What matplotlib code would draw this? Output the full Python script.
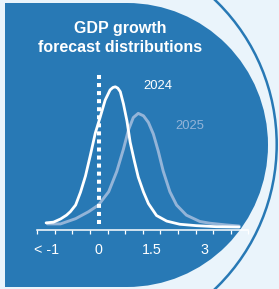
import matplotlib.pyplot as plt
from matplotlib.patches import Ellipse, Rectangle, Circle

# 数据 (x: GDP growth, y: density in arbitrary units)
x_2024 = [-1.50, -1.29, -1.09, -0.92, -0.81, -0.66, -0.52, -0.38, -0.24, -0.10, 0.04,
          0.18, 0.32, 0.40, 0.47, 0.54, 0.61, 0.70, 0.80, 0.89, 1.01, 1.12, 1.27,
          1.41, 1.64, 1.93, 2.30, 2.77, 3.34, 3.99]
y_2024 = [1.9, 2.1, 3.0, 4.1, 5.1, 7.0, 10.7, 15.3, 21.3, 27.6, 32.2,
          37.0, 39.9, 40.6, 40.8, 40.4, 39.4, 35.9, 31.0, 25.0, 19.6, 15.0, 10.7,
          7.4, 4.0, 2.4, 1.5, 1.1, 0.8, 0.7]
x_2025 = [-1.46, -1.09, -0.66, -0.29, -0.01, 0.28, 0.51, 0.70, 0.84, 0.98, 1.12,
          1.27, 1.41, 1.55, 1.69, 1.83, 2.02, 2.21, 2.49, 2.87, 3.15, 3.62, 3.99]
y_2025 = [1.6, 1.6, 3.1, 5.1, 7.0, 10.8, 16.6, 23.0, 28.4, 32.0, 33.2,
          32.5, 30.6, 27.3, 22.4, 16.7, 10.8, 7.0, 4.1, 2.3, 1.8, 1.3, 1.0]

bin_edges = [-1.75 + 0.5 * i for i in range(13)]
label_pos = [-1.5, 0, 1.5, 3]
label_txt = ['< -1', '0', '1.5', '3']
zero_x = 0
zero_y = (1.6, 45.1)

blue = '#2879b5'
light = '#eaf4fb'
faded = '#93b4d8'

plt.rcParams['font.family'] = ['Liberation Sans', 'DejaVu Sans']

fig = plt.figure(figsize=(2.79, 2.89), dpi=100)
fig.patch.set_facecolor(light)

# 背景形状 (像素坐标)
bg = fig.add_axes([0, 0, 1, 1])
bg.set_xlim(0, 279)
bg.set_ylim(289, 0)
bg.axis('off')
bg.add_patch(Rectangle((5, 3), 122, 284, color=blue, lw=0))
bg.add_patch(Ellipse((127, 145), 282, 284, color=blue, lw=0))
bg.add_patch(Rectangle((0, 0), 5, 289, color=light, lw=0))
bg.add_patch(Circle((76.7, 144.5), 200, fill=False, ec=blue, lw=1.8))

# 标题
fig.text(0.43, 1 - 33.3 / 289, 'GDP growth', color='white', fontsize=11.5,
         fontweight='bold', ha='center', va='baseline')
fig.text(0.43, 1 - 52.3 / 289, 'forecast distributions', color='white', fontsize=11.5,
         fontweight='bold', ha='center', va='baseline')

ax = fig.add_axes([37.3 / 279, 1 - 229.5 / 289, 211 / 279, 159.5 / 289])
ax.patch.set_alpha(0)
ax.set_xlim(-1.75, 4.25)
ax.set_ylim(0, 45.6)

ax.plot(x_2025, y_2025, color=faded, lw=2.1, solid_joinstyle='round', solid_capstyle='round')
ax.vlines(zero_x, zero_y[0], zero_y[1], color='white', lw=2.9, linestyles=(0, (1, 1)))
ax.plot(x_2024, y_2024, color='white', lw=2.0, solid_joinstyle='round', solid_capstyle='round')

ax.text(1.67, 40.3, '2024', color='white', fontsize=9.4, ha='center', va='baseline')
ax.text(2.6, 28.6, '2025', color=faded, fontsize=9.4, ha='center', va='baseline')

for s in ['top', 'right', 'left']:
    ax.spines[s].set_visible(False)
ax.spines['bottom'].set_color('white')
ax.spines['bottom'].set_linewidth(1.1)
ax.set_yticks([])
ax.set_xticks(bin_edges, minor=True)
ax.set_xticks(label_pos)
ax.set_xticklabels(label_txt)
ax.tick_params(axis='x', which='minor', direction='out', length=3, width=0.9, color='white')
ax.tick_params(axis='x', which='major', length=0, pad=10, labelsize=10.3, labelcolor='white')

plt.savefig('out.png', dpi=100, facecolor=fig.get_facecolor())
